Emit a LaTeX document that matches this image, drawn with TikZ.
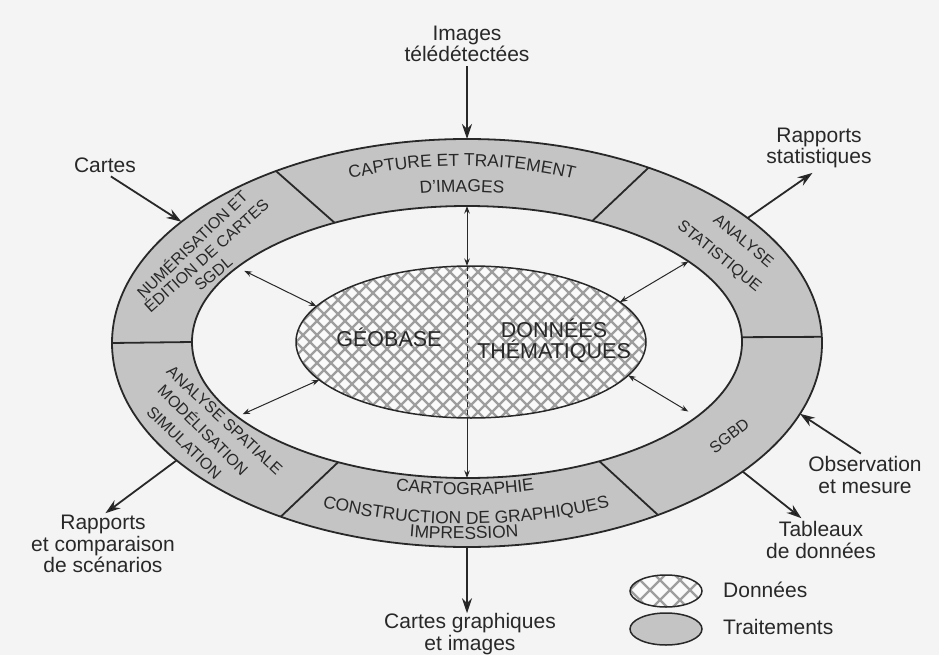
\documentclass[tikz,border=0pt]{standalone}
\usepackage{fontspec}
\setmainfont{Liberation Sans}
\usetikzlibrary{arrows.meta,shapes.geometric,decorations.text}

\definecolor{paper}{RGB}{244,244,244}
\definecolor{ink}{RGB}{40,40,40}
\definecolor{ringgray}{RGB}{196,196,196}
\definecolor{hatchgray}{RGB}{158,158,158}
\definecolor{cellwhite}{RGB}{250,250,250}
\newcommand{\ringfont}{\fontsize{16}{18}\selectfont}
\newcommand{\arcfont}{\fontsize{17.4}{19}\selectfont}

\begin{document}
\begin{tikzpicture}[x=1pt,y=-1pt,
  tag/.style={font=\fontsize{21}{21.5}\selectfont, text=ink, align=center, inner sep=0pt},
  ringword/.style={font=\ringfont, text=ink, inner sep=0pt, anchor=mid},
  coreword/.style={font=\fontsize{21.5}{21}\selectfont, text=ink, align=center, inner sep=0pt},
  flow/.style={draw=ink, line width=1.8pt, -{Stealth[length=15pt,width=10pt]}},
  link/.style={draw=ink, line width=1pt, {Stealth[length=7.5pt,width=5.5pt]}-{Stealth[length=7.5pt,width=5.5pt]}},
  oval/.style={ellipse, inner sep=0pt, outer sep=0pt},
  seam/.style={draw=ink, line width=1.8pt},
  hatch/.style={hatchgray, line width=2.2pt},
  curvetext/.style={decorate, decoration={text along path, text align=center, text color=ink, text={#1}}}
]
\useasboundingbox (0,0) rectangle (939,655);
\fill[paper] (0,0) rectangle (939,655);

% processing ring
\node[oval, draw=ink, line width=1.8pt, fill=ringgray, minimum width=710pt, minimum height=408pt] (outer) at (467,343) {};
\node[oval, draw=ink, line width=1.8pt, fill=paper, minimum width=550pt, minimum height=272pt] (inner) at (467,342) {};
\foreach \ang in {1,44,138,180,223,318}
  \draw[seam] (outer.\ang) -- (inner.\ang);

% cross-hatched data core
\begin{scope}
  \clip (471,342) ellipse [x radius=175, y radius=76];
  \fill[cellwhite] (290,260) rectangle (650,425);
  \foreach \k in {100,114,...,850} {
    \draw[hatch] (\k,230) -- ++(230,230);
    \draw[hatch] (\k,230) -- ++(-230,230);
  }
\end{scope}
\node[oval, draw=ink, line width=1.5pt, minimum width=350pt, minimum height=152pt] (core) at (471,342) {};

\node[coreword, anchor=mid] (geob) at (389,344) {GÉOBASE};
\node[coreword] (them) at (554,341) {DONNÉES\\THÉMATIQUES};

% links between the core and the ring
\draw[link] (inner.north) -- (inner.north |- core.north);
\draw[ink, line width=1pt, dash pattern=on 5pt off 3pt] (inner.north |- core.north) -- (inner.south |- core.south);
\draw[ink, line width=1pt, -{Stealth[length=7.5pt,width=5.5pt]}] (inner.south |- core.south) -- (inner.south);
\draw[link, shorten <=8pt] (inner.162) -- (core.167);
\draw[link, shorten <=6pt] (inner.198) -- (core.194);
\draw[link] (inner.20) -- (core.15);
\draw[link, shorten <=10pt] (inner.342) -- (core.348);

% ring segment captions
\path[curvetext={|\arcfont|CAPTURE ET TRAITEMENT}] (462,343) ++(235:298 and 177) arc[start angle=235, end angle=305, x radius=298, y radius=177];
\path[curvetext={|\arcfont|D'IMAGES}] (462,343) ++(245:270 and 151) arc[start angle=245, end angle=295, x radius=270, y radius=151];
\path[curvetext={|\arcfont|CARTOGRAPHIE}] (465,343) ++(120:280 and 152) arc[start angle=120, end angle=60, x radius=280, y radius=152];
\path[curvetext={|\arcfont|CONSTRUCTION DE GRAPHIQUES}] (466,343) ++(130:340 and 181) arc[start angle=130, end angle=50, x radius=340, y radius=181];
\path[curvetext={|\arcfont|IMPRESSION}] (464,343) ++(105:360 and 196) arc[start angle=105, end angle=75, x radius=360, y radius=196];

\node[ringword, rotate=44] (sgdlA) at (194.4,246.8) {NUMÉRISATION ET};
\node[ringword, rotate=42] (sgdlB) at (208.6,258.1) {ÉDITION DE CARTES};
\node[ringword, rotate=40] (sgdlC) at (215.3,275.9) {SGDL};
\node[ringword, rotate=-40] (statA) at (742,243) {ANALYSE};
\node[ringword, rotate=-39] (statB) at (718,258) {STATISTIQUE};
\node[ringword, rotate=38] (sgbd) at (731,438) {SGBD};
\node[ringword, rotate=-43] (spatA) at (222.7,422.6) {ANALYSE SPATIALE};
\node[ringword, rotate=-45] (spatB) at (200.9,432.2) {MODÉLISATION};
\node[ringword, rotate=-44] (spatC) at (182.1,444.7) {SIMULATION};

% inputs and outputs
\node[tag] (imgs) at (467,44) {Images\\télédétectées};
\node[tag] (maps) at (105,165) {Cartes};
\node[tag] (stats) at (819,148) {Rapports\\statistiques};
\node[tag] (obsv) at (865,475) {Observation\\et mesure};
\node[tag] (tabl) at (821,540) {Tableaux\\de données};
\node[tag] (carto) at (470,634) {Cartes graphiques\\et images};
\node[tag] (scen) at (103,544) {Rapports\\et comparaison\\de scénarios};

\draw[flow, shorten <=4pt] (imgs) -- (outer.north);
\draw[flow, shorten <=7pt] (maps.south) -- (outer.157);
\draw[flow, shorten >=8pt] (outer.24) -- (stats.south);
\draw[flow, shorten <=5pt] (obsv.north) -- (outer.348);
\draw[flow, shorten >=5pt] (outer.335) -- (tabl.130);
\draw[flow] (outer.south) -- (outer.south |- carto.north);
\draw[flow, shorten >=3pt] (outer.202) -- (scen.north);

% legend
\begin{scope}
  \clip (666,591) ellipse [x radius=36, y radius=16];
  \fill[cellwhite] (628,573) rectangle (704,609);
  \foreach \k in {560,580,...,780} {
    \draw[hatch] (\k,560) -- ++(60,60);
    \draw[hatch] (\k,560) -- ++(-60,60);
  }
\end{scope}
\node[oval, draw=ink, line width=1.5pt, minimum width=72pt, minimum height=32pt] (keydata) at (666,591) {};
\node[oval, draw=ink, line width=1.5pt, fill=ringgray, minimum width=72pt, minimum height=32pt] (keyproc) at (666,629) {};
\node[tag, anchor=west] (keydatatxt) at (723,590) {Données};
\node[tag, anchor=west] (keyproctxt) at (723,627) {Traitements};
\end{tikzpicture}
\end{document}
